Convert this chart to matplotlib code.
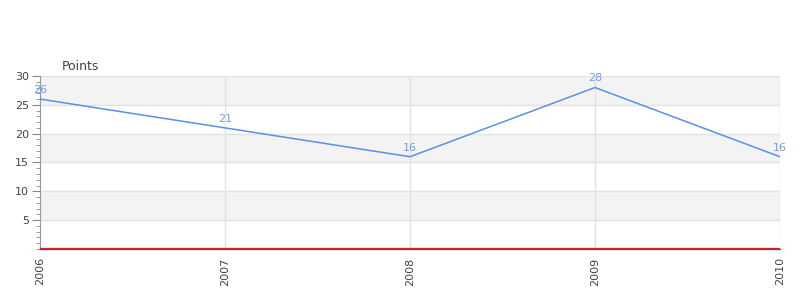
import matplotlib
matplotlib.use("Agg")
import matplotlib.pyplot as plt
from matplotlib.ticker import MultipleLocator

years = ["2006", "2007", "2008", "2009", "2010"]
points = [26, 21, 16, 28, 16]
y_ticks = [5, 10, 15, 20, 25, 30]

fig = plt.figure(figsize=(8, 3), dpi=100)
ax = fig.add_axes([0.05, 0.17, 0.925, 0.5767])

xs = list(range(len(years)))
ax.set_xlim(0, len(years) - 1)
ax.set_ylim(0, 30)

# alternating bands
for i, lo in enumerate(range(0, 30, 5)):
    if i % 2 == 1:
        ax.axhspan(lo, lo + 5, color="#f3f3f3", zorder=0, lw=0)
for t in y_ticks:
    ax.axhline(t, color="#e2e2e2", lw=1, zorder=1)
for x in xs:
    ax.axvline(x, color="#e2e2e2", lw=1, zorder=1)

ax.plot(xs, points, color="#5b8fe8", lw=1.1, zorder=3)
for x, v in zip(xs, points):
    ax.annotate(str(v), (x, v), xytext=(0, 3), textcoords="offset points",
                ha="center", va="bottom", color="#6d9eeb", fontsize=8, zorder=4)

ax.axhline(0.22, color="#cc2222", lw=0.9, zorder=2.6)

ax.set_xticks(xs)
ax.set_xticklabels(years, rotation=90, color="#444444", fontsize=8)
ax.set_yticks(y_ticks)
ax.set_yticklabels([str(t) for t in y_ticks], color="#444444", fontsize=8)
ax.yaxis.set_minor_locator(MultipleLocator(1))
ax.tick_params(axis="y", which="major", length=6, color="#888888", pad=2)
ax.tick_params(axis="y", which="minor", length=3, color="#888888")
ax.tick_params(axis="x", length=0, pad=6)

for s in ["top", "right"]:
    ax.spines[s].set_visible(False)
ax.spines["left"].set_color("#999999")
ax.spines["bottom"].set_color("#555555")
ax.spines["bottom"].set_linewidth(1.0)
ax.spines["bottom"].set_zorder(2.5)

fig.text(62 / 800, 1 - 66 / 300, "Points", color="#444444", fontsize=9,
         ha="left", va="center")

fig.savefig("out.png", dpi=100)
